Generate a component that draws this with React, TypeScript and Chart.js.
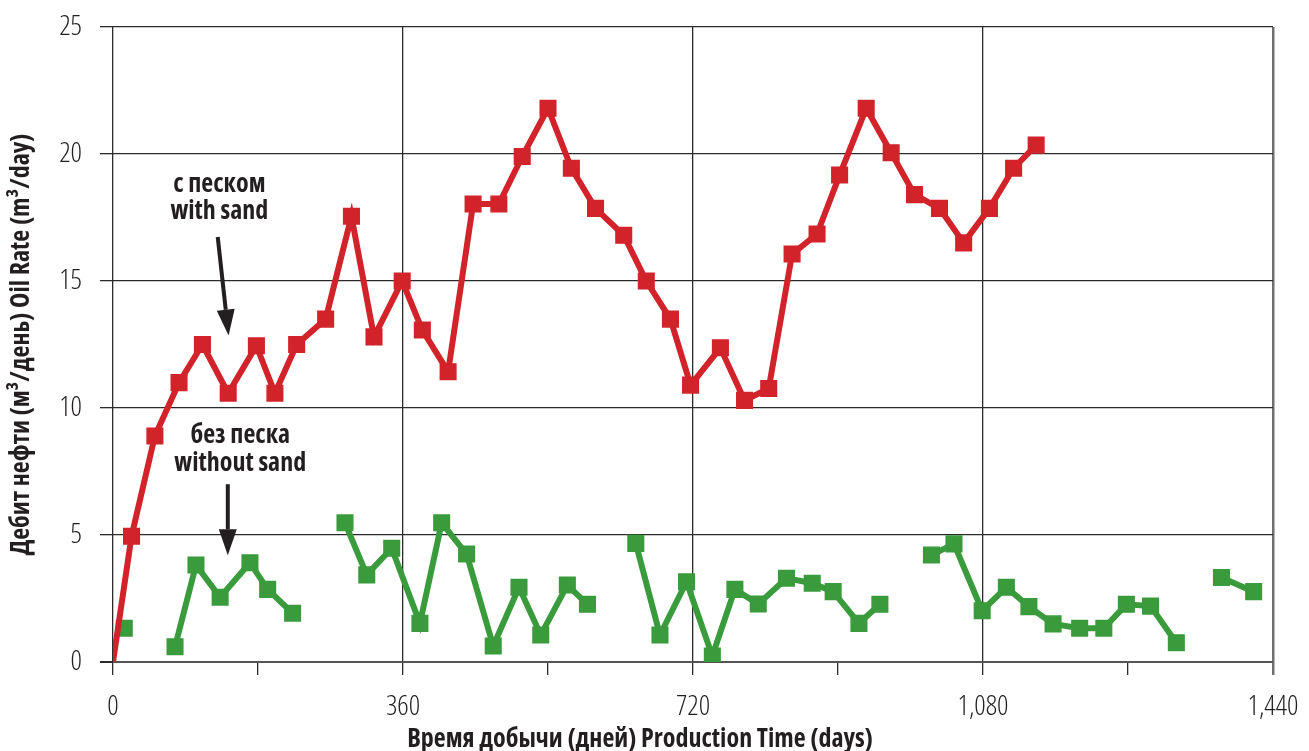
import React, { useEffect, useRef } from "react";
import { Chart, registerables } from "chart.js";

Chart.register(...registerables);

// ---- data ----
const redDays = [0, 23, 52, 82, 111, 143, 178, 201, 228, 264, 296, 324, 359, 384, 416, 447, 479, 508, 540, 569, 599, 634, 662, 692, 717, 754, 784, 814, 843, 874, 902, 935, 966, 995, 1026, 1056, 1088, 1118, 1146];
const redValues = [0, 4.95, 8.9, 11.0, 12.5, 10.58, 12.45, 10.58, 12.5, 13.5, 17.55, 12.8, 15.0, 13.07, 11.43, 18.03, 18.03, 19.9, 21.8, 19.44, 17.86, 16.8, 15.0, 13.5, 10.9, 12.37, 10.3, 10.77, 16.06, 16.85, 19.17, 21.8, 20.05, 18.4, 17.86, 16.5, 17.86, 19.44, 20.35];

// null values mark breaks in the "without sand" record
const greenDays = [14, 45, 77, 103, 133, 170, 192, 223, 255, 288, 315, 346, 381, 408, 439, 472, 504, 531, 564, 589, 620, 649, 679, 712, 744, 772, 801, 836, 868, 894, 926, 952, 985, 1016, 1044, 1079, 1109, 1137, 1167, 1200, 1230, 1258, 1288, 1320, 1350, 1376, 1416];
const greenValues = [1.33, null, 0.6, 3.82, 2.55, 3.91, 2.86, 1.92, null, 5.48, 3.43, 4.48, 1.52, 5.48, 4.25, 0.63, 2.94, 1.06, 3.03, 2.27, null, 4.67, 1.06, 3.16, 0.24, 2.86, 2.28, 3.3, 3.1, 2.77, 1.52, 2.27, null, 4.21, 4.65, 2.02, 2.94, 2.18, 1.5, 1.33, 1.33, 2.27, 2.2, 0.76, null, 3.33, 2.77];

const xMin = 0;
const xMax = 1440;
const xStep = 180;
const yMin = 0;
const yMax = 25;
const yStep = 5;

const xTitle = "Время добычи (дней) Production Time (days)";
const yTitle = "Дебит нефти (м³/день) Oil Rate (m³/day)";
const withSandLabel = ["с песком", "with sand"];
const withoutSandLabel = ["без песка", "without sand"];

const RED = "#D2232A";
const GREEN = "#3A9B3C";
const INK = "#231F20";
const FAMILY = "'Open Sans', 'DejaVu Sans Condensed', sans-serif";

function drawArrow(ctx: CanvasRenderingContext2D, x1: number, y1: number, x2: number, y2: number) {
  const ang = Math.atan2(y2 - y1, x2 - x1);
  const headLen = 26;
  const headHalf = 9;
  const bx = x2 - headLen * Math.cos(ang);
  const by = y2 - headLen * Math.sin(ang);
  ctx.save();
  ctx.strokeStyle = INK;
  ctx.fillStyle = INK;
  ctx.lineWidth = 4;
  ctx.beginPath();
  ctx.moveTo(x1, y1);
  ctx.lineTo(bx, by);
  ctx.stroke();
  ctx.beginPath();
  ctx.moveTo(x2, y2);
  ctx.lineTo(bx + headHalf * Math.sin(ang), by - headHalf * Math.cos(ang));
  ctx.lineTo(bx - headHalf * Math.sin(ang), by + headHalf * Math.cos(ang));
  ctx.closePath();
  ctx.fill();
  ctx.restore();
}

const annotationPlugin = {
  id: "sandAnnotations",
  afterDraw(chart: any) {
    const { ctx, scales } = chart;
    const xs = scales.x;
    const ys = scales.y;
    ctx.save();
    ctx.fillStyle = INK;
    ctx.textAlign = "center";
    ctx.textBaseline = "middle";
    ctx.font = `condensed bold 26px ${FAMILY}`;
    ctx.fillText(withSandLabel[0], xs.getPixelForValue(132), ys.getPixelForValue(18.8));
    ctx.fillText(withSandLabel[1], xs.getPixelForValue(132), ys.getPixelForValue(17.75));
    ctx.fillText(withoutSandLabel[0], xs.getPixelForValue(158), ys.getPixelForValue(8.9));
    ctx.fillText(withoutSandLabel[1], xs.getPixelForValue(158), ys.getPixelForValue(7.83));
    drawArrow(ctx, xs.getPixelForValue(130), ys.getPixelForValue(16.73), xs.getPixelForValue(143.5), ys.getPixelForValue(12.85));
    drawArrow(ctx, xs.getPixelForValue(142.5), ys.getPixelForValue(7.0), xs.getPixelForValue(142.5), ys.getPixelForValue(4.2));

    // x-axis title
    ctx.font = `condensed bold 26px ${FAMILY}`;
    ctx.fillText(xTitle, 640, 740);
    ctx.restore();
  },
};

export default function App() {
  const canvasRef = useRef<HTMLCanvasElement | null>(null);

  useEffect(() => {
    document.body.style.margin = "0";
    const canvas = canvasRef.current;
    if (!canvas) return;
    const redData = redDays.map((d, i) => ({ x: d, y: redValues[i] }));
    const greenData = greenDays.map((d, i) => ({ x: d, y: greenValues[i] }));

    const tickFont = { family: FAMILY, size: 28, weight: "300 semi-condensed" as any };

    const chart = new Chart(canvas, {
      type: "line",
      data: {
        datasets: [
          {
            label: "with sand",
            data: redData as any,
            borderColor: RED,
            backgroundColor: RED,
            borderWidth: 6,
            pointStyle: "rect",
            pointRadius: redDays.map((_, i) => (i === 0 ? 0 : 11)),
            pointBorderWidth: 1.5,
            pointBackgroundColor: RED,
            pointBorderColor: RED,
            tension: 0,
          },
          {
            label: "without sand",
            data: greenData as any,
            borderColor: GREEN,
            backgroundColor: GREEN,
            borderWidth: 6,
            pointStyle: "rect",
            pointRadius: 11,
            pointBorderWidth: 1.5,
            pointBackgroundColor: GREEN,
            pointBorderColor: GREEN,
            spanGaps: false,
            tension: 0,
          },
        ],
      },
      options: {
        animation: false,
        responsive: true,
        maintainAspectRatio: false,
        layout: { padding: { left: 0, top: 27, right: 36, bottom: 0 } },
        plugins: {
          legend: { display: false },
          tooltip: { enabled: false },
        },
        scales: {
          x: {
            type: "linear",
            min: xMin,
            max: xMax,
            afterFit: (scale: any) => {
              scale.height = 89;
              scale.paddingLeft = 0;
              scale.paddingRight = 0;
            },
            ticks: {
              stepSize: xStep,
              autoSkip: false,
              maxRotation: 0,
              padding: 15,
              color: INK,
              font: tickFont,
              callback: (v: any) => (Number(v) % 360 === 0 ? Number(v).toLocaleString("en-US") : ""),
            },
            grid: {
              color: (c: any) =>
                c.tick && c.tick.value === xMax ? "#707070" : c.tick && c.tick.value % 360 === 0 ? "#2b2b2b" : "rgba(0,0,0,0)",
              lineWidth: (c: any) => (c.tick && c.tick.value === xMax ? 2.5 : 1.3),
              tickColor: (c: any) => (c.tick && c.tick.value === xMax ? "#707070" : "#2b2b2b"),
              tickWidth: (c: any) => (c.tick && c.tick.value === xMax ? 2.5 : 1.3),
              tickLength: 13,
            },
            border: { display: false },
            title: { display: false },
          },
          y: {
            type: "linear",
            min: yMin,
            max: yMax,
            afterFit: (scale: any) => {
              scale.width = 113;
              scale.paddingTop = 0;
              scale.paddingBottom = 0;
            },
            ticks: {
              stepSize: yStep,
              padding: 18,
              color: INK,
              font: tickFont,
            },
            grid: {
              color: (c: any) => (c.tick && c.tick.value === 0 ? "#555555" : "#2b2b2b"),
              lineWidth: (c: any) => (c.tick && c.tick.value === 0 ? 2 : 1.3),
              tickColor: "#2b2b2b",
              tickLength: 13,
            },
            border: { display: false },
            title: {
              display: true,
              text: yTitle,
              color: INK,
              font: { family: FAMILY, size: 26, weight: "bold condensed" as any, lineHeight: 1.2 },
              padding: { top: 6, bottom: 0 },
            },
          },
        },
      },
      plugins: [annotationPlugin],
    });
    return () => chart.destroy();
  }, []);

  return (
    <div style={{ position: "fixed", left: 0, top: 0, width: 1309, height: 751, background: "#fff" }}>
      <canvas ref={canvasRef} />
    </div>
  );
}
